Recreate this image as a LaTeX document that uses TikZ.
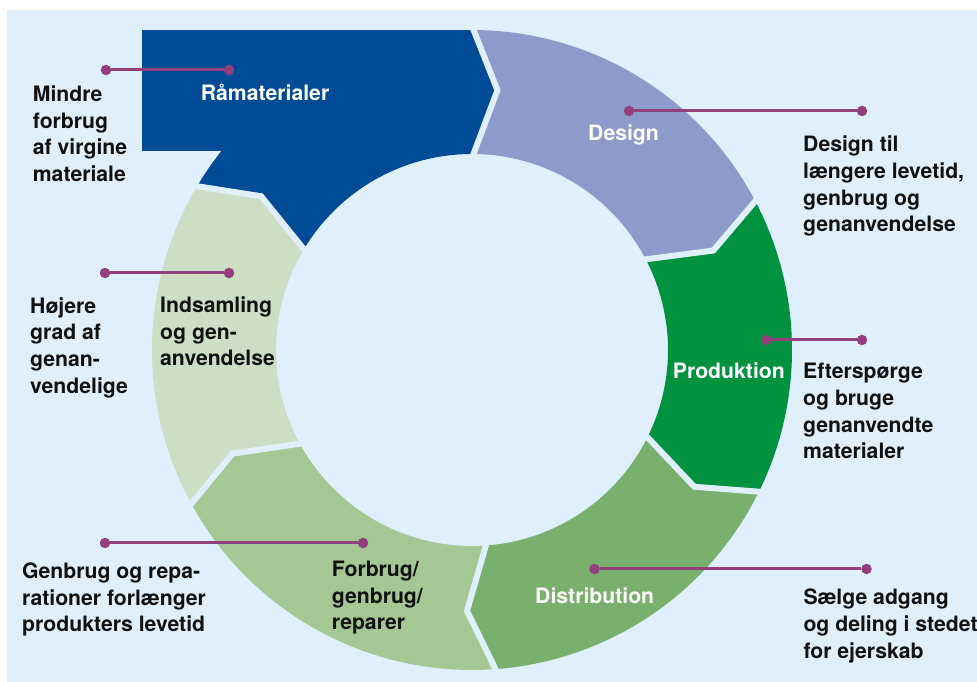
\documentclass[tikz,border=0pt]{standalone}
\usepackage{fontspec}
\setmainfont{TeX Gyre Heros}
\usetikzlibrary{calc}
\definecolor{bgblue}{RGB}{223,240,252}
\definecolor{craw}{RGB}{0,75,150}
\definecolor{cdesign}{RGB}{141,155,203}
\definecolor{cprod}{RGB}{0,146,63}
\definecolor{cdist}{RGB}{122,176,110}
\definecolor{cforb}{RGB}{164,199,148}
\definecolor{cinds}{RGB}{204,222,196}
\definecolor{conn}{RGB}{147,62,125}
\definecolor{txtblack}{RGB}{17,17,17}
\def\RingOut{320}
\def\RingIn{196}
\def\RingMid{261}
\def\RingDl{5.6}
\newcommand{\ringseg}[3]{%
  \fill[#1] (#2:\RingOut) arc[start angle=#2, end angle=#3, radius=\RingOut]
    -- ({#3-\RingDl}:\RingMid) -- (#3:\RingIn)
    arc[start angle=#3, end angle=#2, radius=\RingIn]
    -- ({#2-\RingDl}:\RingMid) -- cycle;}
\newcommand{\ringgap}[1]{%
  \draw[gapline] (#1:{\RingOut+4}) -- ({#1-\RingDl}:\RingMid) -- (#1:{\RingIn-4});}
\begin{document}
\begin{tikzpicture}[x=1pt,y=1pt,
  lbl/.style={font=\fontsize{21.2}{26.6}\selectfont\bfseries, align=left, anchor=base west, inner sep=0pt},
  whitelbl/.style={lbl, text=white},
  darklbl/.style={lbl, text=txtblack},
  dotnode/.style={circle, fill=conn, inner sep=0pt, minimum size=10.5pt},
  connline/.style={draw=conn, line width=3pt},
  gapline/.style={draw=bgblue, line width=6pt, line join=miter, miter limit=20}]
\useasboundingbox (0,0) rectangle (977,682);
\fill[white] (0,0) rectangle (977,682);
\fill[bgblue] (7,0) rectangle (977,672);
% Raamaterialer panel
\fill[craw] (142,531) rectangle (471,652);
\begin{scope}[shift={(472,332)}]
  \ringseg{cdesign}{90}{28}
  \ringseg{cprod}{28}{-26}
  \ringseg{cdist}{-26}{-85.5}
  \ringseg{cforb}{-85.5}{-151}
  \ringseg{cinds}{209}{149.5}
  \ringseg{craw}{149.5}{90}
  \ringgap{90}
  \ringgap{28}
  \ringgap{-26}
  \ringgap{-85.5}
  \ringgap{-151}
  \ringgap{149.5}
\end{scope}
% segment labels (anchor = baseline of last line)
\node[whitelbl] (s1) at (200.7,581) {Råmaterialer};
\node[whitelbl] (s2) at (588,541) {Design};
\node[whitelbl] (s3) at (672.7,303.7) {Produktion};
\node[whitelbl] (s4) at (535,78) {Distribution};
\node[darklbl] (s5) at (331.7,52.1) {Forbrug/\\genbrug/\\reparer};
\node[darklbl] (s6) at (160,316) {Indsamling\\og gen-\\anvendelse};
% side texts
\node[darklbl] (t1) at (32.7,500.5) {Mindre\\forbrug\\af virgine\\materiale};
\node[darklbl] (t2) at (803,450.2) {Design til\\længere levetid,\\genbrug og\\genanvendelse};
\node[darklbl] (t3) at (803,223.2) {Efterspørge\\og bruge\\genanvendte\\materialer};
\node[darklbl] (t4) at (803.3,23.8) {Sælge adgang\\og deling i stedet\\for ejerskab};
\node[darklbl] (t5) at (22,50.3) {Genbrug og repa-\\rationer forlænger\\produkters levetid};
\node[darklbl] (t6) at (30,288.9) {Højere\\grad af\\genan-\\vendelige};
% connectors
\node[dotnode] (d1a) at (106,612) {};
\node[dotnode] (d1b) at (229,612) {};
\node[dotnode] (d2a) at (629,571) {};
\node[dotnode] (d2b) at (862,571) {};
\node[dotnode] (d3a) at (105,409) {};
\node[dotnode] (d3b) at (229,409) {};
\node[dotnode] (d4a) at (766.5,342) {};
\node[dotnode] (d4b) at (862,342) {};
\node[dotnode] (d5a) at (105,139) {};
\node[dotnode] (d5b) at (363,139) {};
\node[dotnode] (d6a) at (594.5,113) {};
\node[dotnode] (d6b) at (866.5,113) {};
\draw[connline] (d1a) -- (d1b);
\draw[connline] (d2a) -- (d2b);
\draw[connline] (d3a) -- (d3b);
\draw[connline] (d4a) -- (d4b);
\draw[connline] (d5a) -- (d5b);
\draw[connline] (d6a) -- (d6b);
\end{tikzpicture}
\end{document}
